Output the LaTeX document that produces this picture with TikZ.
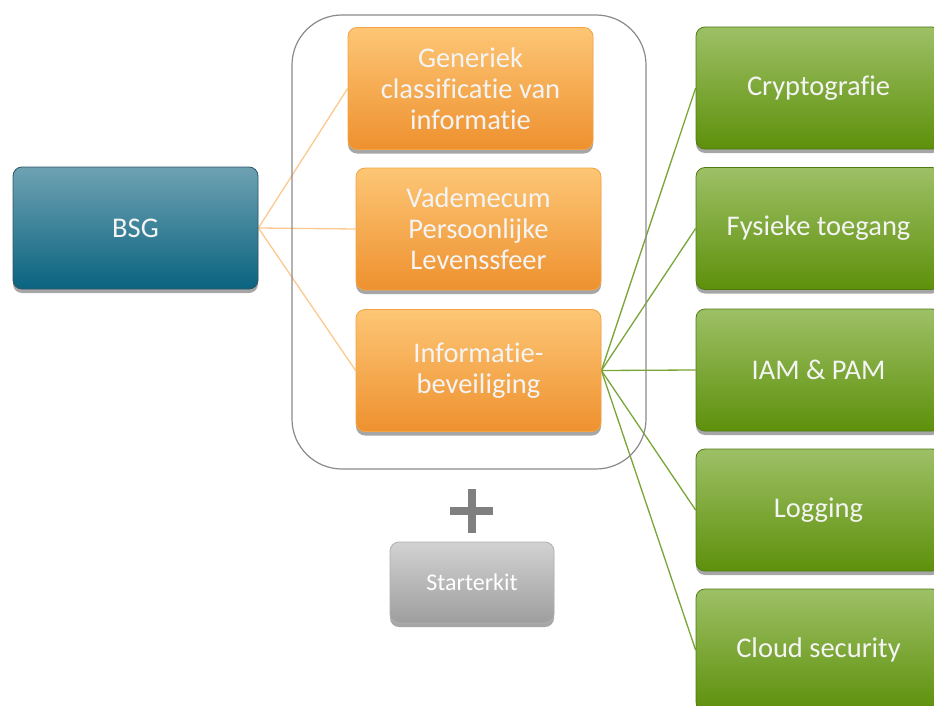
\documentclass[tikz,border=0pt]{standalone}
\usepackage{fontspec}
\setmainfont[Ligatures=NoCommon]{Carlito}
\usetikzlibrary{shadows,backgrounds}
\definecolor{tealtop}{HTML}{6EA2B2}
\definecolor{tealbot}{HTML}{0A6380}
\definecolor{tealborder}{HTML}{2F5666}
\definecolor{orgtop}{HTML}{FDC675}
\definecolor{orgbot}{HTML}{EE912F}
\definecolor{orgborder}{HTML}{F5A242}
\definecolor{grntop}{HTML}{9DC066}
\definecolor{grnbot}{HTML}{5E900B}
\definecolor{grnborder}{HTML}{4F7A12}
\definecolor{grytop}{HTML}{D2D2D2}
\definecolor{grybot}{HTML}{9E9E9E}
\definecolor{gryborder}{HTML}{B0B0B0}
\definecolor{orgline}{HTML}{FBC98F}
\definecolor{grnline}{HTML}{79A536}
\definecolor{frame}{HTML}{8A8A8A}
\definecolor{plusgray}{HTML}{808080}
\definecolor{txt}{HTML}{F4F4F4}
\begin{document}
\begin{tikzpicture}[x=1pt,y=-1pt,
  box/.style={rectangle, rounded corners=9pt, minimum width=245pt, minimum height=122pt,
    align=center, text=txt, font=\fontsize{28.5}{31}\selectfont, line width=0.8pt,
    drop shadow={shadow xshift=0pt, shadow yshift=-4pt, opacity=0.35, fill=black}},
  tealbox/.style={box, draw=tealborder, top color=tealtop, bottom color=tealbot},
  orgbox/.style={box, draw=orgborder, top color=orgtop, bottom color=orgbot},
  grnbox/.style={box, draw=grnborder, top color=grntop, bottom color=grnbot},
  grybox/.style={box, draw=gryborder, top color=grytop, bottom color=grybot,
    minimum width=164pt, minimum height=81pt, font=\fontsize{24}{28}\selectfont, text=white},
  orgconn/.style={draw=orgline, line width=1.3pt},
  grnconn/.style={draw=grnline, line width=1.3pt}]
\clip (0,0) rectangle (934,706);
\draw[frame, line width=1.2pt, rounded corners=50pt] (292,15) rectangle (646,469);

\node[tealbox] (bsg) at (135.5,228) {BSG};
\node[orgbox] (o1) at (470.5,88.5) {Generiek\\classificatie van\\informatie};
\node[orgbox] (o2) at (478.5,229) {Vademecum\\Persoonlijke\\Levenssfeer};
\node[orgbox] (o3) at (478.5,370.5) {Informatie-\\beveiliging};

\node[grnbox] (g1) at (818.5,88) {Cryptografie};
\node[grnbox] (g2) at (818.5,228.5) {Fysieke toegang};
\node[grnbox] (g3) at (818.5,370) {IAM \& PAM};
\node[grnbox] (g4) at (818.5,510) {Logging};
\node[grnbox] (g5) at (818.5,650) {Cloud security};

\node[grybox] (sk) at (472,582.5) {Starterkit};

\fill[plusgray] (450,507) rectangle (493,515);
\fill[plusgray] (468,489) rectangle (476,533);

\begin{scope}[on background layer]
\draw[orgconn] (bsg.east) -- (o1.west);
\draw[orgconn] (bsg.east) -- (o2.west);
\draw[orgconn] (bsg.east) -- (o3.west);
\draw[grnconn] (o3.east) -- (g1.west);
\draw[grnconn] (o3.east) -- (g2.west);
\draw[grnconn] (o3.east) -- (g3.west);
\draw[grnconn] (o3.east) -- (g4.west);
\draw[grnconn] (o3.east) -- (g5.west);
\end{scope}
\end{tikzpicture}
\end{document}
